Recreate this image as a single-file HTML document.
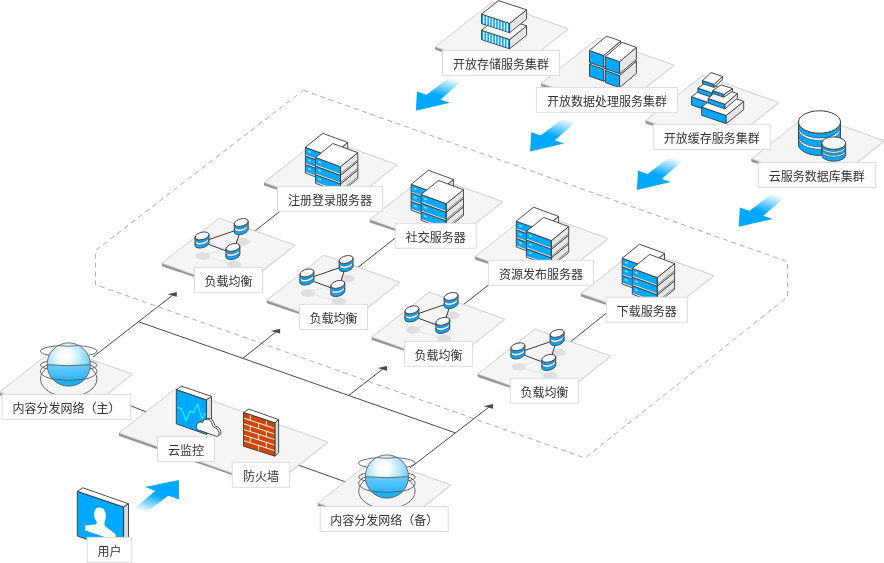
<!DOCTYPE html>
<html lang="zh-CN">
<head>
<meta charset="utf-8">
<title>云架构图</title>
<style>
html,body{margin:0;padding:0;background:#fff;}
body{width:884px;height:563px;overflow:hidden;}
svg{display:block;}
.t{font-family:"Liberation Sans","Noto Sans CJK SC","WenQuanYi Zen Hei",sans-serif;font-size:12px;fill:#333;filter:grayscale(1);}
</style>
</head>
<body>
<svg width="884" height="563" viewBox="0 0 884 563">
<defs>
<radialGradient id="gl" cx="0.42" cy="0.3" r="0.68"><stop offset="0" stop-color="#ffffff"/><stop offset="0.22" stop-color="#f6fcff"/><stop offset="0.65" stop-color="#a4dffd"/><stop offset="1" stop-color="#4cc1fa"/></radialGradient>
<linearGradient id="gl2" x1="0" y1="0" x2="0" y2="1"><stop offset="0" stop-color="#5cc8fe" stop-opacity="0.85"/><stop offset="1" stop-color="#14aefc" stop-opacity="1"/></linearGradient>
<linearGradient id="ga0" gradientUnits="userSpaceOnUse" x1="433.0" y1="97.1" x2="439.6" y2="74.5"><stop offset="0" stop-color="#00a8ff"/><stop offset="0.12" stop-color="#00a8ff"/><stop offset="1" stop-color="#fff"/></linearGradient>
<linearGradient id="ga1" gradientUnits="userSpaceOnUse" x1="547.3" y1="137.8" x2="553.9" y2="115.2"><stop offset="0" stop-color="#00a8ff"/><stop offset="0.12" stop-color="#00a8ff"/><stop offset="1" stop-color="#fff"/></linearGradient>
<linearGradient id="ga2" gradientUnits="userSpaceOnUse" x1="654.1" y1="176.4" x2="660.7" y2="153.8"><stop offset="0" stop-color="#00a8ff"/><stop offset="0.12" stop-color="#00a8ff"/><stop offset="1" stop-color="#fff"/></linearGradient>
<linearGradient id="ga3" gradientUnits="userSpaceOnUse" x1="755.9" y1="213.2" x2="762.5" y2="190.6"><stop offset="0" stop-color="#00a8ff"/><stop offset="0.12" stop-color="#00a8ff"/><stop offset="1" stop-color="#fff"/></linearGradient>
<linearGradient id="gu" gradientUnits="userSpaceOnUse" x1="161.6" y1="493.6" x2="155.3" y2="515.3"><stop offset="0" stop-color="#00a8ff"/><stop offset="0.12" stop-color="#00a8ff"/><stop offset="1" stop-color="#fff"/></linearGradient>
</defs>
<rect width="884" height="563" fill="#fff"/>
<polygon points="303.4,90.3 787.5,261.7 787.5,297 585,458 95.4,284.6 95.4,250.5" fill="none" stroke="#adadad" stroke-width="1" stroke-dasharray="5,3.9"/>
<line x1="125.0" y1="403.6" x2="146.0" y2="411.8" stroke="#4a4a4a" stroke-width="1" />
<line x1="297.0" y1="464.6" x2="346.0" y2="482.1" stroke="#4a4a4a" stroke-width="1" />
<line x1="248.0" y1="236.5" x2="290.0" y2="203.3" stroke="#4a4a4a" stroke-width="1" />
<line x1="352.0" y1="272.0" x2="400.0" y2="234.3" stroke="#4a4a4a" stroke-width="1" />
<line x1="458.0" y1="308.8" x2="495.0" y2="279.9" stroke="#4a4a4a" stroke-width="1" />
<line x1="565.0" y1="346.2" x2="612.0" y2="308.6" stroke="#4a4a4a" stroke-width="1" />
<clipPath id="cp1"><rect x="0" y="0" width="884" height="75.2"/></clipPath>
<g clip-path="url(#cp1)">
<polygon points="492.5,1.8 568.2,28.8 511.0,73.8 435.3,46.8" fill="#f5f5f5" stroke="#c9c9c9" stroke-width="0.9" stroke-linejoin="round" />
<polygon points="435.0,47.0 511.0,74.1 511.0,75.0 435.2,49.8" fill="#959595" />
<polygon points="511.0,74.1 568.5,29.0 568.4,29.7 511.0,75.0" fill="#d8d8d8" />
</g>
<clipPath id="cp2"><rect x="0" y="0" width="884" height="112.2"/></clipPath>
<g clip-path="url(#cp2)">
<polygon points="598.3,38.2 674.0,65.2 616.8,110.2 541.1,83.2" fill="#f5f5f5" stroke="#c9c9c9" stroke-width="0.9" stroke-linejoin="round" />
<polygon points="540.8,83.4 616.8,110.5 616.8,111.4 541.0,86.2" fill="#959595" />
<polygon points="616.8,110.5 674.3,65.4 674.2,66.1 616.8,111.4" fill="#d8d8d8" />
</g>
<clipPath id="cp3"><rect x="0" y="0" width="884" height="149.1"/></clipPath>
<g clip-path="url(#cp3)">
<polygon points="703.0,75.5 778.7,102.5 721.5,147.5 645.8,120.5" fill="#f5f5f5" stroke="#c9c9c9" stroke-width="0.9" stroke-linejoin="round" />
<polygon points="645.5,120.7 721.5,147.8 721.5,148.7 645.7,123.5" fill="#959595" />
<polygon points="721.5,147.8 779.0,102.7 778.9,103.4 721.5,148.7" fill="#d8d8d8" />
</g>
<clipPath id="cp4"><rect x="0" y="0" width="884" height="187.2"/></clipPath>
<g clip-path="url(#cp4)">
<polygon points="808.7,113.8 884.4,140.8 827.2,185.8 751.5,158.8" fill="#f5f5f5" stroke="#c9c9c9" stroke-width="0.9" stroke-linejoin="round" />
<polygon points="751.2,159.0 827.2,186.1 827.2,187.0 751.4,161.8" fill="#959595" />
<polygon points="827.2,186.1 884.7,141.0 884.6,141.7 827.2,187.0" fill="#d8d8d8" />
</g>
<clipPath id="cp5"><rect x="0" y="0" width="884" height="211.1"/></clipPath>
<g clip-path="url(#cp5)">
<polygon points="321.4,137.6 397.1,164.6 339.9,209.6 264.2,182.6" fill="#f5f5f5" stroke="#c9c9c9" stroke-width="0.9" stroke-linejoin="round" />
<polygon points="263.9,182.8 339.9,209.9 339.9,210.8 264.1,185.6" fill="#959595" />
<polygon points="339.9,209.9 397.4,164.8 397.3,165.5 339.9,210.8" fill="#d8d8d8" />
</g>
<clipPath id="cp6"><rect x="0" y="0" width="884" height="248.1"/></clipPath>
<g clip-path="url(#cp6)">
<polygon points="427.1,174.6 502.8,201.6 445.6,246.6 369.9,219.6" fill="#f5f5f5" stroke="#c9c9c9" stroke-width="0.9" stroke-linejoin="round" />
<polygon points="369.6,219.8 445.6,246.9 445.6,247.8 369.8,222.6" fill="#959595" />
<polygon points="445.6,246.9 503.1,201.8 503.0,202.5 445.6,247.8" fill="#d8d8d8" />
</g>
<clipPath id="cp7"><rect x="0" y="0" width="884" height="285.0"/></clipPath>
<g clip-path="url(#cp7)">
<polygon points="532.3,211.5 608.0,238.5 550.8,283.5 475.1,256.5" fill="#f5f5f5" stroke="#c9c9c9" stroke-width="0.9" stroke-linejoin="round" />
<polygon points="474.8,256.7 550.8,283.8 550.8,284.7 475.0,259.5" fill="#959595" />
<polygon points="550.8,283.8 608.3,238.7 608.2,239.4 550.8,284.7" fill="#d8d8d8" />
</g>
<clipPath id="cp8"><rect x="0" y="0" width="884" height="322.0"/></clipPath>
<g clip-path="url(#cp8)">
<polygon points="638.2,248.5 713.9,275.5 656.7,320.5 581.0,293.5" fill="#f5f5f5" stroke="#c9c9c9" stroke-width="0.9" stroke-linejoin="round" />
<polygon points="580.7,293.7 656.7,320.8 656.7,321.7 580.9,296.5" fill="#959595" />
<polygon points="656.7,320.8 714.2,275.7 714.1,276.4 656.7,321.7" fill="#d8d8d8" />
</g>
<clipPath id="cp9"><rect x="0" y="0" width="884" height="292.2"/></clipPath>
<g clip-path="url(#cp9)">
<polygon points="219.2,218.2 294.9,245.2 237.7,290.2 162.0,263.2" fill="#f5f5f5" stroke="#c9c9c9" stroke-width="0.9" stroke-linejoin="round" />
<polygon points="161.7,263.4 237.7,290.5 237.7,291.4 161.9,266.2" fill="#959595" />
<polygon points="237.7,290.5 295.2,245.4 295.1,246.1 237.7,291.4" fill="#d8d8d8" />
</g>
<clipPath id="cp10"><rect x="0" y="0" width="884" height="329.2"/></clipPath>
<g clip-path="url(#cp10)">
<polygon points="324.1,255.2 399.8,282.2 342.6,327.2 266.9,300.2" fill="#f5f5f5" stroke="#c9c9c9" stroke-width="0.9" stroke-linejoin="round" />
<polygon points="266.6,300.4 342.6,327.5 342.6,328.4 266.8,303.2" fill="#959595" />
<polygon points="342.6,327.5 400.1,282.4 400.0,283.1 342.6,328.4" fill="#d8d8d8" />
</g>
<clipPath id="cp11"><rect x="0" y="0" width="884" height="366.1"/></clipPath>
<g clip-path="url(#cp11)">
<polygon points="429.1,292.1 504.8,319.1 447.6,364.1 371.9,337.1" fill="#f5f5f5" stroke="#c9c9c9" stroke-width="0.9" stroke-linejoin="round" />
<polygon points="371.6,337.3 447.6,364.4 447.6,365.3 371.8,340.1" fill="#959595" />
<polygon points="447.6,364.4 505.1,319.3 505.0,320.0 447.6,365.3" fill="#d8d8d8" />
</g>
<clipPath id="cp12"><rect x="0" y="0" width="884" height="403.1"/></clipPath>
<g clip-path="url(#cp12)">
<polygon points="535.1,329.1 610.8,356.1 553.6,401.1 477.9,374.1" fill="#f5f5f5" stroke="#c9c9c9" stroke-width="0.9" stroke-linejoin="round" />
<polygon points="477.6,374.3 553.6,401.4 553.6,402.3 477.8,377.1" fill="#959595" />
<polygon points="553.6,401.4 611.1,356.3 611.0,357.0 553.6,402.3" fill="#d8d8d8" />
</g>
<clipPath id="cp13"><rect x="0" y="0" width="884" height="419.2"/></clipPath>
<g clip-path="url(#cp13)">
<polygon points="56.7,347.2 132.4,374.2 75.2,419.2 -0.5,392.2" fill="#f5f5f5" stroke="#c9c9c9" stroke-width="0.9" stroke-linejoin="round" />
<polygon points="-0.8,392.4 75.2,419.5 75.2,420.4 -0.6,395.2" fill="#959595" />
<polygon points="75.2,419.5 132.7,374.4 132.6,375.1 75.2,420.4" fill="#d8d8d8" />
</g>
<clipPath id="cp14"><rect x="0" y="0" width="884" height="487.1"/></clipPath>
<g clip-path="url(#cp14)">
<polygon points="176.4,388.0 327.8,442.0 270.6,487.0 119.2,433.0" fill="#f5f5f5" stroke="#c9c9c9" stroke-width="0.9" stroke-linejoin="round" />
<polygon points="118.9,433.2 270.6,487.3 270.6,488.2 119.1,436.0" fill="#959595" />
<polygon points="270.6,487.3 328.1,442.2 328.0,442.9 270.6,488.2" fill="#d8d8d8" />
</g>
<clipPath id="cp15"><rect x="0" y="0" width="884" height="531.2"/></clipPath>
<g clip-path="url(#cp15)">
<polygon points="375.2,458.0 450.9,485.0 393.7,530.0 318.0,503.0" fill="#f5f5f5" stroke="#c9c9c9" stroke-width="0.9" stroke-linejoin="round" />
<polygon points="317.7,503.2 393.7,530.3 393.7,531.2 317.9,506.0" fill="#959595" />
<polygon points="393.7,530.3 451.2,485.2 451.1,485.9 393.7,531.2" fill="#d8d8d8" />
</g>
<line x1="139.0" y1="321.9" x2="455.1" y2="432.8" stroke="#4a4a4a" stroke-width="1" />
<line x1="93.0" y1="357.0" x2="172.6" y2="295.2" stroke="#4a4a4a" stroke-width="1" />
<polygon points="176.8,292.1 167.4,294.2 176.8,296.8" fill="#4a4a4a" />
<line x1="242.9" y1="358.3" x2="275.9" y2="331.9" stroke="#4a4a4a" stroke-width="1" />
<polygon points="280.1,328.8 270.7,330.9 280.1,333.5" fill="#4a4a4a" />
<line x1="348.6" y1="395.5" x2="382.8" y2="369.1" stroke="#4a4a4a" stroke-width="1" />
<polygon points="387.0,366.0 377.6,368.1 387.0,370.7" fill="#4a4a4a" />
<line x1="409.9" y1="468.0" x2="488.8" y2="407.2" stroke="#4a4a4a" stroke-width="1" />
<polygon points="493.0,404.1 483.6,406.2 493.0,408.8" fill="#4a4a4a" />
<polygon points="305.4,164.5 330.4,173.7 330.4,182.3 305.4,173.1" fill="#fff" />
<polygon points="330.4,173.7 347.7,159.7 347.7,168.3 330.4,182.3" fill="#fff" />
<polygon points="305.4,164.5 330.4,173.7 330.4,180.8 305.4,171.6" fill="#00a8ff" />
<polygon points="330.4,173.7 347.7,159.7 347.7,166.8 330.4,180.8" fill="#e6e6e6" />
<polygon points="305.4,164.5 330.4,173.7 330.4,182.3 305.4,173.1" fill="none" stroke="#3a3a3a" stroke-width="0.9" stroke-linejoin="round" />
<polygon points="330.4,173.7 347.7,159.7 347.7,168.3 330.4,182.3" fill="none" stroke="#3a3a3a" stroke-width="0.9" stroke-linejoin="round" />
<line x1="330.4" y1="180.7" x2="347.7" y2="166.7" stroke="#555" stroke-width="0.7" />
<line x1="305.4" y1="171.6" x2="330.4" y2="180.8" stroke="#6b7f8a" stroke-width="0.4" />
<polygon points="308.0,167.7 311.0,168.8 311.0,170.5 308.0,169.4" fill="#7adcff" />
<polygon points="305.4,155.9 330.4,165.1 330.4,173.7 305.4,164.5" fill="#fff" />
<polygon points="330.4,165.1 347.7,151.1 347.7,159.7 330.4,173.7" fill="#fff" />
<polygon points="305.4,155.9 330.4,165.1 330.4,172.2 305.4,163.0" fill="#00a8ff" />
<polygon points="330.4,165.1 347.7,151.1 347.7,158.2 330.4,172.2" fill="#e6e6e6" />
<polygon points="305.4,155.9 330.4,165.1 330.4,173.7 305.4,164.5" fill="none" stroke="#3a3a3a" stroke-width="0.9" stroke-linejoin="round" />
<polygon points="330.4,165.1 347.7,151.1 347.7,159.7 330.4,173.7" fill="none" stroke="#3a3a3a" stroke-width="0.9" stroke-linejoin="round" />
<line x1="330.4" y1="172.1" x2="347.7" y2="158.1" stroke="#555" stroke-width="0.7" />
<line x1="305.4" y1="163.0" x2="330.4" y2="172.2" stroke="#6b7f8a" stroke-width="0.4" />
<polygon points="308.0,159.1 311.0,160.2 311.0,161.9 308.0,160.8" fill="#7adcff" />
<polygon points="305.4,147.3 330.4,156.5 330.4,165.1 305.4,155.9" fill="#fff" />
<polygon points="330.4,156.5 347.7,142.5 347.7,151.1 330.4,165.1" fill="#fff" />
<polygon points="305.4,147.3 330.4,156.5 330.4,163.6 305.4,154.4" fill="#00a8ff" />
<polygon points="330.4,156.5 347.7,142.5 347.7,149.6 330.4,163.6" fill="#e6e6e6" />
<polygon points="305.4,147.3 330.4,156.5 330.4,165.1 305.4,155.9" fill="none" stroke="#3a3a3a" stroke-width="0.9" stroke-linejoin="round" />
<polygon points="330.4,156.5 347.7,142.5 347.7,151.1 330.4,165.1" fill="none" stroke="#3a3a3a" stroke-width="0.9" stroke-linejoin="round" />
<line x1="330.4" y1="163.5" x2="347.7" y2="149.5" stroke="#555" stroke-width="0.7" />
<line x1="305.4" y1="154.4" x2="330.4" y2="163.6" stroke="#6b7f8a" stroke-width="0.4" />
<polygon points="308.0,150.5 311.0,151.6 311.0,153.3 308.0,152.2" fill="#7adcff" />
<polygon points="305.4,147.3 330.4,156.5 347.7,142.5 322.7,133.3" fill="#fff" stroke="#3a3a3a" stroke-width="0.9" stroke-linejoin="round" />
<polygon points="315.5,174.7 340.5,183.9 340.5,192.5 315.5,183.3" fill="#fff" />
<polygon points="340.5,183.9 357.8,169.9 357.8,178.5 340.5,192.5" fill="#fff" />
<polygon points="315.5,174.7 340.5,183.9 340.5,191.0 315.5,181.8" fill="#00a8ff" />
<polygon points="340.5,183.9 357.8,169.9 357.8,177.0 340.5,191.0" fill="#e6e6e6" />
<polygon points="315.5,174.7 340.5,183.9 340.5,192.5 315.5,183.3" fill="none" stroke="#3a3a3a" stroke-width="0.9" stroke-linejoin="round" />
<polygon points="340.5,183.9 357.8,169.9 357.8,178.5 340.5,192.5" fill="none" stroke="#3a3a3a" stroke-width="0.9" stroke-linejoin="round" />
<line x1="340.5" y1="190.9" x2="357.8" y2="176.9" stroke="#555" stroke-width="0.7" />
<line x1="315.5" y1="181.8" x2="340.5" y2="191.0" stroke="#6b7f8a" stroke-width="0.4" />
<polygon points="318.1,177.9 321.1,179.0 321.1,180.7 318.1,179.6" fill="#7adcff" />
<polygon points="315.5,166.1 340.5,175.3 340.5,183.9 315.5,174.7" fill="#fff" />
<polygon points="340.5,175.3 357.8,161.3 357.8,169.9 340.5,183.9" fill="#fff" />
<polygon points="315.5,166.1 340.5,175.3 340.5,182.4 315.5,173.2" fill="#00a8ff" />
<polygon points="340.5,175.3 357.8,161.3 357.8,168.4 340.5,182.4" fill="#e6e6e6" />
<polygon points="315.5,166.1 340.5,175.3 340.5,183.9 315.5,174.7" fill="none" stroke="#3a3a3a" stroke-width="0.9" stroke-linejoin="round" />
<polygon points="340.5,175.3 357.8,161.3 357.8,169.9 340.5,183.9" fill="none" stroke="#3a3a3a" stroke-width="0.9" stroke-linejoin="round" />
<line x1="340.5" y1="182.3" x2="357.8" y2="168.3" stroke="#555" stroke-width="0.7" />
<line x1="315.5" y1="173.2" x2="340.5" y2="182.4" stroke="#6b7f8a" stroke-width="0.4" />
<polygon points="318.1,169.3 321.1,170.4 321.1,172.1 318.1,171.0" fill="#7adcff" />
<polygon points="315.5,157.5 340.5,166.7 340.5,175.3 315.5,166.1" fill="#fff" />
<polygon points="340.5,166.7 357.8,152.7 357.8,161.3 340.5,175.3" fill="#fff" />
<polygon points="315.5,157.5 340.5,166.7 340.5,173.8 315.5,164.6" fill="#00a8ff" />
<polygon points="340.5,166.7 357.8,152.7 357.8,159.8 340.5,173.8" fill="#e6e6e6" />
<polygon points="315.5,157.5 340.5,166.7 340.5,175.3 315.5,166.1" fill="none" stroke="#3a3a3a" stroke-width="0.9" stroke-linejoin="round" />
<polygon points="340.5,166.7 357.8,152.7 357.8,161.3 340.5,175.3" fill="none" stroke="#3a3a3a" stroke-width="0.9" stroke-linejoin="round" />
<line x1="340.5" y1="173.7" x2="357.8" y2="159.7" stroke="#555" stroke-width="0.7" />
<line x1="315.5" y1="164.6" x2="340.5" y2="173.8" stroke="#6b7f8a" stroke-width="0.4" />
<polygon points="318.1,160.7 321.1,161.8 321.1,163.5 318.1,162.4" fill="#7adcff" />
<polygon points="315.5,157.5 340.5,166.7 357.8,152.7 332.8,143.5" fill="#fff" stroke="#3a3a3a" stroke-width="0.9" stroke-linejoin="round" />
<polygon points="411.1,201.5 436.1,210.7 436.1,219.3 411.1,210.1" fill="#fff" />
<polygon points="436.1,210.7 453.4,196.7 453.4,205.3 436.1,219.3" fill="#fff" />
<polygon points="411.1,201.5 436.1,210.7 436.1,217.8 411.1,208.6" fill="#00a8ff" />
<polygon points="436.1,210.7 453.4,196.7 453.4,203.8 436.1,217.8" fill="#e6e6e6" />
<polygon points="411.1,201.5 436.1,210.7 436.1,219.3 411.1,210.1" fill="none" stroke="#3a3a3a" stroke-width="0.9" stroke-linejoin="round" />
<polygon points="436.1,210.7 453.4,196.7 453.4,205.3 436.1,219.3" fill="none" stroke="#3a3a3a" stroke-width="0.9" stroke-linejoin="round" />
<line x1="436.1" y1="217.7" x2="453.4" y2="203.7" stroke="#555" stroke-width="0.7" />
<line x1="411.1" y1="208.6" x2="436.1" y2="217.8" stroke="#6b7f8a" stroke-width="0.4" />
<polygon points="413.7,204.7 416.7,205.8 416.7,207.5 413.7,206.4" fill="#7adcff" />
<polygon points="411.1,192.9 436.1,202.1 436.1,210.7 411.1,201.5" fill="#fff" />
<polygon points="436.1,202.1 453.4,188.1 453.4,196.7 436.1,210.7" fill="#fff" />
<polygon points="411.1,192.9 436.1,202.1 436.1,209.2 411.1,200.0" fill="#00a8ff" />
<polygon points="436.1,202.1 453.4,188.1 453.4,195.2 436.1,209.2" fill="#e6e6e6" />
<polygon points="411.1,192.9 436.1,202.1 436.1,210.7 411.1,201.5" fill="none" stroke="#3a3a3a" stroke-width="0.9" stroke-linejoin="round" />
<polygon points="436.1,202.1 453.4,188.1 453.4,196.7 436.1,210.7" fill="none" stroke="#3a3a3a" stroke-width="0.9" stroke-linejoin="round" />
<line x1="436.1" y1="209.1" x2="453.4" y2="195.1" stroke="#555" stroke-width="0.7" />
<line x1="411.1" y1="200.0" x2="436.1" y2="209.2" stroke="#6b7f8a" stroke-width="0.4" />
<polygon points="413.7,196.1 416.7,197.2 416.7,198.9 413.7,197.8" fill="#7adcff" />
<polygon points="411.1,184.3 436.1,193.5 436.1,202.1 411.1,192.9" fill="#fff" />
<polygon points="436.1,193.5 453.4,179.5 453.4,188.1 436.1,202.1" fill="#fff" />
<polygon points="411.1,184.3 436.1,193.5 436.1,200.6 411.1,191.4" fill="#00a8ff" />
<polygon points="436.1,193.5 453.4,179.5 453.4,186.6 436.1,200.6" fill="#e6e6e6" />
<polygon points="411.1,184.3 436.1,193.5 436.1,202.1 411.1,192.9" fill="none" stroke="#3a3a3a" stroke-width="0.9" stroke-linejoin="round" />
<polygon points="436.1,193.5 453.4,179.5 453.4,188.1 436.1,202.1" fill="none" stroke="#3a3a3a" stroke-width="0.9" stroke-linejoin="round" />
<line x1="436.1" y1="200.5" x2="453.4" y2="186.5" stroke="#555" stroke-width="0.7" />
<line x1="411.1" y1="191.4" x2="436.1" y2="200.6" stroke="#6b7f8a" stroke-width="0.4" />
<polygon points="413.7,187.5 416.7,188.6 416.7,190.3 413.7,189.2" fill="#7adcff" />
<polygon points="411.1,184.3 436.1,193.5 453.4,179.5 428.4,170.3" fill="#fff" stroke="#3a3a3a" stroke-width="0.9" stroke-linejoin="round" />
<polygon points="421.2,211.7 446.2,220.9 446.2,229.5 421.2,220.3" fill="#fff" />
<polygon points="446.2,220.9 463.5,206.9 463.5,215.5 446.2,229.5" fill="#fff" />
<polygon points="421.2,211.7 446.2,220.9 446.2,228.0 421.2,218.8" fill="#00a8ff" />
<polygon points="446.2,220.9 463.5,206.9 463.5,214.0 446.2,228.0" fill="#e6e6e6" />
<polygon points="421.2,211.7 446.2,220.9 446.2,229.5 421.2,220.3" fill="none" stroke="#3a3a3a" stroke-width="0.9" stroke-linejoin="round" />
<polygon points="446.2,220.9 463.5,206.9 463.5,215.5 446.2,229.5" fill="none" stroke="#3a3a3a" stroke-width="0.9" stroke-linejoin="round" />
<line x1="446.2" y1="227.9" x2="463.5" y2="213.9" stroke="#555" stroke-width="0.7" />
<line x1="421.2" y1="218.8" x2="446.2" y2="228.0" stroke="#6b7f8a" stroke-width="0.4" />
<polygon points="423.8,214.9 426.8,216.0 426.8,217.7 423.8,216.6" fill="#7adcff" />
<polygon points="421.2,203.1 446.2,212.3 446.2,220.9 421.2,211.7" fill="#fff" />
<polygon points="446.2,212.3 463.5,198.3 463.5,206.9 446.2,220.9" fill="#fff" />
<polygon points="421.2,203.1 446.2,212.3 446.2,219.4 421.2,210.2" fill="#00a8ff" />
<polygon points="446.2,212.3 463.5,198.3 463.5,205.4 446.2,219.4" fill="#e6e6e6" />
<polygon points="421.2,203.1 446.2,212.3 446.2,220.9 421.2,211.7" fill="none" stroke="#3a3a3a" stroke-width="0.9" stroke-linejoin="round" />
<polygon points="446.2,212.3 463.5,198.3 463.5,206.9 446.2,220.9" fill="none" stroke="#3a3a3a" stroke-width="0.9" stroke-linejoin="round" />
<line x1="446.2" y1="219.3" x2="463.5" y2="205.3" stroke="#555" stroke-width="0.7" />
<line x1="421.2" y1="210.2" x2="446.2" y2="219.4" stroke="#6b7f8a" stroke-width="0.4" />
<polygon points="423.8,206.3 426.8,207.4 426.8,209.1 423.8,208.0" fill="#7adcff" />
<polygon points="421.2,194.5 446.2,203.7 446.2,212.3 421.2,203.1" fill="#fff" />
<polygon points="446.2,203.7 463.5,189.7 463.5,198.3 446.2,212.3" fill="#fff" />
<polygon points="421.2,194.5 446.2,203.7 446.2,210.8 421.2,201.6" fill="#00a8ff" />
<polygon points="446.2,203.7 463.5,189.7 463.5,196.8 446.2,210.8" fill="#e6e6e6" />
<polygon points="421.2,194.5 446.2,203.7 446.2,212.3 421.2,203.1" fill="none" stroke="#3a3a3a" stroke-width="0.9" stroke-linejoin="round" />
<polygon points="446.2,203.7 463.5,189.7 463.5,198.3 446.2,212.3" fill="none" stroke="#3a3a3a" stroke-width="0.9" stroke-linejoin="round" />
<line x1="446.2" y1="210.7" x2="463.5" y2="196.7" stroke="#555" stroke-width="0.7" />
<line x1="421.2" y1="201.6" x2="446.2" y2="210.8" stroke="#6b7f8a" stroke-width="0.4" />
<polygon points="423.8,197.7 426.8,198.8 426.8,200.5 423.8,199.4" fill="#7adcff" />
<polygon points="421.2,194.5 446.2,203.7 463.5,189.7 438.5,180.5" fill="#fff" stroke="#3a3a3a" stroke-width="0.9" stroke-linejoin="round" />
<polygon points="516.3,238.4 541.3,247.6 541.3,256.2 516.3,247.0" fill="#fff" />
<polygon points="541.3,247.6 558.6,233.6 558.6,242.2 541.3,256.2" fill="#fff" />
<polygon points="516.3,238.4 541.3,247.6 541.3,254.7 516.3,245.5" fill="#00a8ff" />
<polygon points="541.3,247.6 558.6,233.6 558.6,240.7 541.3,254.7" fill="#e6e6e6" />
<polygon points="516.3,238.4 541.3,247.6 541.3,256.2 516.3,247.0" fill="none" stroke="#3a3a3a" stroke-width="0.9" stroke-linejoin="round" />
<polygon points="541.3,247.6 558.6,233.6 558.6,242.2 541.3,256.2" fill="none" stroke="#3a3a3a" stroke-width="0.9" stroke-linejoin="round" />
<line x1="541.3" y1="254.6" x2="558.6" y2="240.6" stroke="#555" stroke-width="0.7" />
<line x1="516.3" y1="245.5" x2="541.3" y2="254.7" stroke="#6b7f8a" stroke-width="0.4" />
<polygon points="518.9,241.6 521.9,242.7 521.9,244.4 518.9,243.3" fill="#7adcff" />
<polygon points="516.3,229.8 541.3,239.0 541.3,247.6 516.3,238.4" fill="#fff" />
<polygon points="541.3,239.0 558.6,225.0 558.6,233.6 541.3,247.6" fill="#fff" />
<polygon points="516.3,229.8 541.3,239.0 541.3,246.1 516.3,236.9" fill="#00a8ff" />
<polygon points="541.3,239.0 558.6,225.0 558.6,232.1 541.3,246.1" fill="#e6e6e6" />
<polygon points="516.3,229.8 541.3,239.0 541.3,247.6 516.3,238.4" fill="none" stroke="#3a3a3a" stroke-width="0.9" stroke-linejoin="round" />
<polygon points="541.3,239.0 558.6,225.0 558.6,233.6 541.3,247.6" fill="none" stroke="#3a3a3a" stroke-width="0.9" stroke-linejoin="round" />
<line x1="541.3" y1="246.0" x2="558.6" y2="232.0" stroke="#555" stroke-width="0.7" />
<line x1="516.3" y1="236.9" x2="541.3" y2="246.1" stroke="#6b7f8a" stroke-width="0.4" />
<polygon points="518.9,233.0 521.9,234.1 521.9,235.8 518.9,234.7" fill="#7adcff" />
<polygon points="516.3,221.2 541.3,230.4 541.3,239.0 516.3,229.8" fill="#fff" />
<polygon points="541.3,230.4 558.6,216.4 558.6,225.0 541.3,239.0" fill="#fff" />
<polygon points="516.3,221.2 541.3,230.4 541.3,237.5 516.3,228.3" fill="#00a8ff" />
<polygon points="541.3,230.4 558.6,216.4 558.6,223.5 541.3,237.5" fill="#e6e6e6" />
<polygon points="516.3,221.2 541.3,230.4 541.3,239.0 516.3,229.8" fill="none" stroke="#3a3a3a" stroke-width="0.9" stroke-linejoin="round" />
<polygon points="541.3,230.4 558.6,216.4 558.6,225.0 541.3,239.0" fill="none" stroke="#3a3a3a" stroke-width="0.9" stroke-linejoin="round" />
<line x1="541.3" y1="237.4" x2="558.6" y2="223.4" stroke="#555" stroke-width="0.7" />
<line x1="516.3" y1="228.3" x2="541.3" y2="237.5" stroke="#6b7f8a" stroke-width="0.4" />
<polygon points="518.9,224.4 521.9,225.5 521.9,227.2 518.9,226.1" fill="#7adcff" />
<polygon points="516.3,221.2 541.3,230.4 558.6,216.4 533.6,207.2" fill="#fff" stroke="#3a3a3a" stroke-width="0.9" stroke-linejoin="round" />
<polygon points="526.4,248.6 551.4,257.8 551.4,266.4 526.4,257.2" fill="#fff" />
<polygon points="551.4,257.8 568.7,243.8 568.7,252.4 551.4,266.4" fill="#fff" />
<polygon points="526.4,248.6 551.4,257.8 551.4,264.9 526.4,255.7" fill="#00a8ff" />
<polygon points="551.4,257.8 568.7,243.8 568.7,250.9 551.4,264.9" fill="#e6e6e6" />
<polygon points="526.4,248.6 551.4,257.8 551.4,266.4 526.4,257.2" fill="none" stroke="#3a3a3a" stroke-width="0.9" stroke-linejoin="round" />
<polygon points="551.4,257.8 568.7,243.8 568.7,252.4 551.4,266.4" fill="none" stroke="#3a3a3a" stroke-width="0.9" stroke-linejoin="round" />
<line x1="551.4" y1="264.8" x2="568.7" y2="250.8" stroke="#555" stroke-width="0.7" />
<line x1="526.4" y1="255.7" x2="551.4" y2="264.9" stroke="#6b7f8a" stroke-width="0.4" />
<polygon points="529.0,251.8 532.0,252.9 532.0,254.6 529.0,253.5" fill="#7adcff" />
<polygon points="526.4,240.0 551.4,249.2 551.4,257.8 526.4,248.6" fill="#fff" />
<polygon points="551.4,249.2 568.7,235.2 568.7,243.8 551.4,257.8" fill="#fff" />
<polygon points="526.4,240.0 551.4,249.2 551.4,256.3 526.4,247.1" fill="#00a8ff" />
<polygon points="551.4,249.2 568.7,235.2 568.7,242.3 551.4,256.3" fill="#e6e6e6" />
<polygon points="526.4,240.0 551.4,249.2 551.4,257.8 526.4,248.6" fill="none" stroke="#3a3a3a" stroke-width="0.9" stroke-linejoin="round" />
<polygon points="551.4,249.2 568.7,235.2 568.7,243.8 551.4,257.8" fill="none" stroke="#3a3a3a" stroke-width="0.9" stroke-linejoin="round" />
<line x1="551.4" y1="256.2" x2="568.7" y2="242.2" stroke="#555" stroke-width="0.7" />
<line x1="526.4" y1="247.1" x2="551.4" y2="256.3" stroke="#6b7f8a" stroke-width="0.4" />
<polygon points="529.0,243.2 532.0,244.3 532.0,246.0 529.0,244.9" fill="#7adcff" />
<polygon points="526.4,231.4 551.4,240.6 551.4,249.2 526.4,240.0" fill="#fff" />
<polygon points="551.4,240.6 568.7,226.6 568.7,235.2 551.4,249.2" fill="#fff" />
<polygon points="526.4,231.4 551.4,240.6 551.4,247.7 526.4,238.5" fill="#00a8ff" />
<polygon points="551.4,240.6 568.7,226.6 568.7,233.7 551.4,247.7" fill="#e6e6e6" />
<polygon points="526.4,231.4 551.4,240.6 551.4,249.2 526.4,240.0" fill="none" stroke="#3a3a3a" stroke-width="0.9" stroke-linejoin="round" />
<polygon points="551.4,240.6 568.7,226.6 568.7,235.2 551.4,249.2" fill="none" stroke="#3a3a3a" stroke-width="0.9" stroke-linejoin="round" />
<line x1="551.4" y1="247.6" x2="568.7" y2="233.6" stroke="#555" stroke-width="0.7" />
<line x1="526.4" y1="238.5" x2="551.4" y2="247.7" stroke="#6b7f8a" stroke-width="0.4" />
<polygon points="529.0,234.6 532.0,235.7 532.0,237.4 529.0,236.3" fill="#7adcff" />
<polygon points="526.4,231.4 551.4,240.6 568.7,226.6 543.7,217.4" fill="#fff" stroke="#3a3a3a" stroke-width="0.9" stroke-linejoin="round" />
<polygon points="622.2,275.4 647.2,284.6 647.2,293.2 622.2,284.0" fill="#fff" />
<polygon points="647.2,284.6 664.5,270.6 664.5,279.2 647.2,293.2" fill="#fff" />
<polygon points="622.2,275.4 647.2,284.6 647.2,291.7 622.2,282.5" fill="#00a8ff" />
<polygon points="647.2,284.6 664.5,270.6 664.5,277.7 647.2,291.7" fill="#e6e6e6" />
<polygon points="622.2,275.4 647.2,284.6 647.2,293.2 622.2,284.0" fill="none" stroke="#3a3a3a" stroke-width="0.9" stroke-linejoin="round" />
<polygon points="647.2,284.6 664.5,270.6 664.5,279.2 647.2,293.2" fill="none" stroke="#3a3a3a" stroke-width="0.9" stroke-linejoin="round" />
<line x1="647.2" y1="291.6" x2="664.5" y2="277.6" stroke="#555" stroke-width="0.7" />
<line x1="622.2" y1="282.5" x2="647.2" y2="291.7" stroke="#6b7f8a" stroke-width="0.4" />
<polygon points="624.8,278.6 627.8,279.7 627.8,281.4 624.8,280.3" fill="#7adcff" />
<polygon points="622.2,266.8 647.2,276.0 647.2,284.6 622.2,275.4" fill="#fff" />
<polygon points="647.2,276.0 664.5,262.0 664.5,270.6 647.2,284.6" fill="#fff" />
<polygon points="622.2,266.8 647.2,276.0 647.2,283.1 622.2,273.9" fill="#00a8ff" />
<polygon points="647.2,276.0 664.5,262.0 664.5,269.1 647.2,283.1" fill="#e6e6e6" />
<polygon points="622.2,266.8 647.2,276.0 647.2,284.6 622.2,275.4" fill="none" stroke="#3a3a3a" stroke-width="0.9" stroke-linejoin="round" />
<polygon points="647.2,276.0 664.5,262.0 664.5,270.6 647.2,284.6" fill="none" stroke="#3a3a3a" stroke-width="0.9" stroke-linejoin="round" />
<line x1="647.2" y1="283.0" x2="664.5" y2="269.0" stroke="#555" stroke-width="0.7" />
<line x1="622.2" y1="273.9" x2="647.2" y2="283.1" stroke="#6b7f8a" stroke-width="0.4" />
<polygon points="624.8,270.0 627.8,271.1 627.8,272.8 624.8,271.7" fill="#7adcff" />
<polygon points="622.2,258.2 647.2,267.4 647.2,276.0 622.2,266.8" fill="#fff" />
<polygon points="647.2,267.4 664.5,253.4 664.5,262.0 647.2,276.0" fill="#fff" />
<polygon points="622.2,258.2 647.2,267.4 647.2,274.5 622.2,265.3" fill="#00a8ff" />
<polygon points="647.2,267.4 664.5,253.4 664.5,260.5 647.2,274.5" fill="#e6e6e6" />
<polygon points="622.2,258.2 647.2,267.4 647.2,276.0 622.2,266.8" fill="none" stroke="#3a3a3a" stroke-width="0.9" stroke-linejoin="round" />
<polygon points="647.2,267.4 664.5,253.4 664.5,262.0 647.2,276.0" fill="none" stroke="#3a3a3a" stroke-width="0.9" stroke-linejoin="round" />
<line x1="647.2" y1="274.4" x2="664.5" y2="260.4" stroke="#555" stroke-width="0.7" />
<line x1="622.2" y1="265.3" x2="647.2" y2="274.5" stroke="#6b7f8a" stroke-width="0.4" />
<polygon points="624.8,261.4 627.8,262.5 627.8,264.2 624.8,263.1" fill="#7adcff" />
<polygon points="622.2,258.2 647.2,267.4 664.5,253.4 639.5,244.2" fill="#fff" stroke="#3a3a3a" stroke-width="0.9" stroke-linejoin="round" />
<polygon points="632.3,285.6 657.3,294.8 657.3,303.4 632.3,294.2" fill="#fff" />
<polygon points="657.3,294.8 674.6,280.8 674.6,289.4 657.3,303.4" fill="#fff" />
<polygon points="632.3,285.6 657.3,294.8 657.3,301.9 632.3,292.7" fill="#00a8ff" />
<polygon points="657.3,294.8 674.6,280.8 674.6,287.9 657.3,301.9" fill="#e6e6e6" />
<polygon points="632.3,285.6 657.3,294.8 657.3,303.4 632.3,294.2" fill="none" stroke="#3a3a3a" stroke-width="0.9" stroke-linejoin="round" />
<polygon points="657.3,294.8 674.6,280.8 674.6,289.4 657.3,303.4" fill="none" stroke="#3a3a3a" stroke-width="0.9" stroke-linejoin="round" />
<line x1="657.3" y1="301.8" x2="674.6" y2="287.8" stroke="#555" stroke-width="0.7" />
<line x1="632.3" y1="292.7" x2="657.3" y2="301.9" stroke="#6b7f8a" stroke-width="0.4" />
<polygon points="634.9,288.8 637.9,289.9 637.9,291.6 634.9,290.5" fill="#7adcff" />
<polygon points="632.3,277.0 657.3,286.2 657.3,294.8 632.3,285.6" fill="#fff" />
<polygon points="657.3,286.2 674.6,272.2 674.6,280.8 657.3,294.8" fill="#fff" />
<polygon points="632.3,277.0 657.3,286.2 657.3,293.3 632.3,284.1" fill="#00a8ff" />
<polygon points="657.3,286.2 674.6,272.2 674.6,279.3 657.3,293.3" fill="#e6e6e6" />
<polygon points="632.3,277.0 657.3,286.2 657.3,294.8 632.3,285.6" fill="none" stroke="#3a3a3a" stroke-width="0.9" stroke-linejoin="round" />
<polygon points="657.3,286.2 674.6,272.2 674.6,280.8 657.3,294.8" fill="none" stroke="#3a3a3a" stroke-width="0.9" stroke-linejoin="round" />
<line x1="657.3" y1="293.2" x2="674.6" y2="279.2" stroke="#555" stroke-width="0.7" />
<line x1="632.3" y1="284.1" x2="657.3" y2="293.3" stroke="#6b7f8a" stroke-width="0.4" />
<polygon points="634.9,280.2 637.9,281.3 637.9,283.0 634.9,281.9" fill="#7adcff" />
<polygon points="632.3,268.4 657.3,277.6 657.3,286.2 632.3,277.0" fill="#fff" />
<polygon points="657.3,277.6 674.6,263.6 674.6,272.2 657.3,286.2" fill="#fff" />
<polygon points="632.3,268.4 657.3,277.6 657.3,284.7 632.3,275.5" fill="#00a8ff" />
<polygon points="657.3,277.6 674.6,263.6 674.6,270.7 657.3,284.7" fill="#e6e6e6" />
<polygon points="632.3,268.4 657.3,277.6 657.3,286.2 632.3,277.0" fill="none" stroke="#3a3a3a" stroke-width="0.9" stroke-linejoin="round" />
<polygon points="657.3,277.6 674.6,263.6 674.6,272.2 657.3,286.2" fill="none" stroke="#3a3a3a" stroke-width="0.9" stroke-linejoin="round" />
<line x1="657.3" y1="284.6" x2="674.6" y2="270.6" stroke="#555" stroke-width="0.7" />
<line x1="632.3" y1="275.5" x2="657.3" y2="284.7" stroke="#6b7f8a" stroke-width="0.4" />
<polygon points="634.9,271.6 637.9,272.7 637.9,274.4 634.9,273.3" fill="#7adcff" />
<polygon points="632.3,268.4 657.3,277.6 674.6,263.6 649.6,254.4" fill="#fff" stroke="#3a3a3a" stroke-width="0.9" stroke-linejoin="round" />
<line x1="203.0" y1="256.0" x2="242.6" y2="241.6" stroke="#e4e4e4" stroke-width="1" />
<line x1="203.0" y1="256.0" x2="234.2" y2="264.6" stroke="#e4e4e4" stroke-width="1" />
<line x1="242.6" y1="241.6" x2="234.2" y2="264.6" stroke="#e4e4e4" stroke-width="1" />
<ellipse cx="203.0" cy="256.0" rx="7.2" ry="3.8" fill="#dfdfdf"/>
<ellipse cx="242.6" cy="241.6" rx="7.2" ry="3.8" fill="#dfdfdf"/>
<ellipse cx="234.2" cy="264.6" rx="7.2" ry="3.8" fill="#dfdfdf"/>
<line x1="202.0" y1="241.9" x2="241.2" y2="228.5" stroke="#3a3a3a" stroke-width="1" />
<line x1="202.0" y1="241.9" x2="232.9" y2="253.4" stroke="#3a3a3a" stroke-width="1" />
<line x1="241.2" y1="228.5" x2="232.9" y2="253.4" stroke="#3a3a3a" stroke-width="1" />
<g transform="translate(202.0 235.9) skewY(-11) translate(-202.0 -235.9)">
<path d="M195.1,235.9 v8.1 a6.9,3.7 0 0 0 13.8,0 v-8.1 z" fill="#fff" stroke="#3a3a3a" stroke-width="0.9"/>
<path d="M195.1,236.3 a6.9,3.7 0 0 0 13.8,0 v2.4 a6.9,3.7 0 0 1 -13.8,0 z" fill="#00a8ff" stroke="#3a3a3a" stroke-width="0.45"/>
<path d="M195.1,240.9 a6.9,3.7 0 0 0 13.8,0 v3.1 a6.9,3.7 0 0 1 -13.8,0 z" fill="#00a8ff" stroke="#3a3a3a" stroke-width="0.45"/>
<ellipse cx="202.0" cy="235.9" rx="6.9" ry="3.7" fill="#fff" stroke="#3a3a3a" stroke-width="0.9"/>
</g>
<g transform="translate(241.2 222.5) skewY(-11) translate(-241.2 -222.5)">
<path d="M234.3,222.5 v8.1 a6.9,3.7 0 0 0 13.8,0 v-8.1 z" fill="#fff" stroke="#3a3a3a" stroke-width="0.9"/>
<path d="M234.3,222.9 a6.9,3.7 0 0 0 13.8,0 v2.4 a6.9,3.7 0 0 1 -13.8,0 z" fill="#00a8ff" stroke="#3a3a3a" stroke-width="0.45"/>
<path d="M234.3,227.5 a6.9,3.7 0 0 0 13.8,0 v3.1 a6.9,3.7 0 0 1 -13.8,0 z" fill="#00a8ff" stroke="#3a3a3a" stroke-width="0.45"/>
<ellipse cx="241.2" cy="222.5" rx="6.9" ry="3.7" fill="#fff" stroke="#3a3a3a" stroke-width="0.9"/>
</g>
<g transform="translate(232.9 247.4) skewY(-11) translate(-232.9 -247.4)">
<path d="M226.0,247.4 v8.1 a6.9,3.7 0 0 0 13.8,0 v-8.1 z" fill="#fff" stroke="#3a3a3a" stroke-width="0.9"/>
<path d="M226.0,247.8 a6.9,3.7 0 0 0 13.8,0 v2.4 a6.9,3.7 0 0 1 -13.8,0 z" fill="#00a8ff" stroke="#3a3a3a" stroke-width="0.45"/>
<path d="M226.0,252.4 a6.9,3.7 0 0 0 13.8,0 v3.1 a6.9,3.7 0 0 1 -13.8,0 z" fill="#00a8ff" stroke="#3a3a3a" stroke-width="0.45"/>
<ellipse cx="232.9" cy="247.4" rx="6.9" ry="3.7" fill="#fff" stroke="#3a3a3a" stroke-width="0.9"/>
</g>
<line x1="307.9" y1="293.0" x2="347.5" y2="278.6" stroke="#e4e4e4" stroke-width="1" />
<line x1="307.9" y1="293.0" x2="339.1" y2="301.6" stroke="#e4e4e4" stroke-width="1" />
<line x1="347.5" y1="278.6" x2="339.1" y2="301.6" stroke="#e4e4e4" stroke-width="1" />
<ellipse cx="307.9" cy="293.0" rx="7.2" ry="3.8" fill="#dfdfdf"/>
<ellipse cx="347.5" cy="278.6" rx="7.2" ry="3.8" fill="#dfdfdf"/>
<ellipse cx="339.1" cy="301.6" rx="7.2" ry="3.8" fill="#dfdfdf"/>
<line x1="306.9" y1="278.9" x2="346.1" y2="265.5" stroke="#3a3a3a" stroke-width="1" />
<line x1="306.9" y1="278.9" x2="337.8" y2="290.4" stroke="#3a3a3a" stroke-width="1" />
<line x1="346.1" y1="265.5" x2="337.8" y2="290.4" stroke="#3a3a3a" stroke-width="1" />
<g transform="translate(306.9 272.9) skewY(-11) translate(-306.9 -272.9)">
<path d="M300.0,272.9 v8.1 a6.9,3.7 0 0 0 13.8,0 v-8.1 z" fill="#fff" stroke="#3a3a3a" stroke-width="0.9"/>
<path d="M300.0,273.3 a6.9,3.7 0 0 0 13.8,0 v2.4 a6.9,3.7 0 0 1 -13.8,0 z" fill="#00a8ff" stroke="#3a3a3a" stroke-width="0.45"/>
<path d="M300.0,277.9 a6.9,3.7 0 0 0 13.8,0 v3.1 a6.9,3.7 0 0 1 -13.8,0 z" fill="#00a8ff" stroke="#3a3a3a" stroke-width="0.45"/>
<ellipse cx="306.9" cy="272.9" rx="6.9" ry="3.7" fill="#fff" stroke="#3a3a3a" stroke-width="0.9"/>
</g>
<g transform="translate(346.1 259.5) skewY(-11) translate(-346.1 -259.5)">
<path d="M339.2,259.5 v8.1 a6.9,3.7 0 0 0 13.8,0 v-8.1 z" fill="#fff" stroke="#3a3a3a" stroke-width="0.9"/>
<path d="M339.2,259.9 a6.9,3.7 0 0 0 13.8,0 v2.4 a6.9,3.7 0 0 1 -13.8,0 z" fill="#00a8ff" stroke="#3a3a3a" stroke-width="0.45"/>
<path d="M339.2,264.5 a6.9,3.7 0 0 0 13.8,0 v3.1 a6.9,3.7 0 0 1 -13.8,0 z" fill="#00a8ff" stroke="#3a3a3a" stroke-width="0.45"/>
<ellipse cx="346.1" cy="259.5" rx="6.9" ry="3.7" fill="#fff" stroke="#3a3a3a" stroke-width="0.9"/>
</g>
<g transform="translate(337.8 284.4) skewY(-11) translate(-337.8 -284.4)">
<path d="M330.9,284.4 v8.1 a6.9,3.7 0 0 0 13.8,0 v-8.1 z" fill="#fff" stroke="#3a3a3a" stroke-width="0.9"/>
<path d="M330.9,284.8 a6.9,3.7 0 0 0 13.8,0 v2.4 a6.9,3.7 0 0 1 -13.8,0 z" fill="#00a8ff" stroke="#3a3a3a" stroke-width="0.45"/>
<path d="M330.9,289.4 a6.9,3.7 0 0 0 13.8,0 v3.1 a6.9,3.7 0 0 1 -13.8,0 z" fill="#00a8ff" stroke="#3a3a3a" stroke-width="0.45"/>
<ellipse cx="337.8" cy="284.4" rx="6.9" ry="3.7" fill="#fff" stroke="#3a3a3a" stroke-width="0.9"/>
</g>
<line x1="412.9" y1="329.9" x2="452.5" y2="315.5" stroke="#e4e4e4" stroke-width="1" />
<line x1="412.9" y1="329.9" x2="444.1" y2="338.5" stroke="#e4e4e4" stroke-width="1" />
<line x1="452.5" y1="315.5" x2="444.1" y2="338.5" stroke="#e4e4e4" stroke-width="1" />
<ellipse cx="412.9" cy="329.9" rx="7.2" ry="3.8" fill="#dfdfdf"/>
<ellipse cx="452.5" cy="315.5" rx="7.2" ry="3.8" fill="#dfdfdf"/>
<ellipse cx="444.1" cy="338.5" rx="7.2" ry="3.8" fill="#dfdfdf"/>
<line x1="411.9" y1="315.8" x2="451.1" y2="302.4" stroke="#3a3a3a" stroke-width="1" />
<line x1="411.9" y1="315.8" x2="442.8" y2="327.3" stroke="#3a3a3a" stroke-width="1" />
<line x1="451.1" y1="302.4" x2="442.8" y2="327.3" stroke="#3a3a3a" stroke-width="1" />
<g transform="translate(411.9 309.8) skewY(-11) translate(-411.9 -309.8)">
<path d="M405.0,309.8 v8.1 a6.9,3.7 0 0 0 13.8,0 v-8.1 z" fill="#fff" stroke="#3a3a3a" stroke-width="0.9"/>
<path d="M405.0,310.2 a6.9,3.7 0 0 0 13.8,0 v2.4 a6.9,3.7 0 0 1 -13.8,0 z" fill="#00a8ff" stroke="#3a3a3a" stroke-width="0.45"/>
<path d="M405.0,314.8 a6.9,3.7 0 0 0 13.8,0 v3.1 a6.9,3.7 0 0 1 -13.8,0 z" fill="#00a8ff" stroke="#3a3a3a" stroke-width="0.45"/>
<ellipse cx="411.9" cy="309.8" rx="6.9" ry="3.7" fill="#fff" stroke="#3a3a3a" stroke-width="0.9"/>
</g>
<g transform="translate(451.1 296.4) skewY(-11) translate(-451.1 -296.4)">
<path d="M444.2,296.4 v8.1 a6.9,3.7 0 0 0 13.8,0 v-8.1 z" fill="#fff" stroke="#3a3a3a" stroke-width="0.9"/>
<path d="M444.2,296.8 a6.9,3.7 0 0 0 13.8,0 v2.4 a6.9,3.7 0 0 1 -13.8,0 z" fill="#00a8ff" stroke="#3a3a3a" stroke-width="0.45"/>
<path d="M444.2,301.4 a6.9,3.7 0 0 0 13.8,0 v3.1 a6.9,3.7 0 0 1 -13.8,0 z" fill="#00a8ff" stroke="#3a3a3a" stroke-width="0.45"/>
<ellipse cx="451.1" cy="296.4" rx="6.9" ry="3.7" fill="#fff" stroke="#3a3a3a" stroke-width="0.9"/>
</g>
<g transform="translate(442.8 321.3) skewY(-11) translate(-442.8 -321.3)">
<path d="M435.9,321.3 v8.1 a6.9,3.7 0 0 0 13.8,0 v-8.1 z" fill="#fff" stroke="#3a3a3a" stroke-width="0.9"/>
<path d="M435.9,321.7 a6.9,3.7 0 0 0 13.8,0 v2.4 a6.9,3.7 0 0 1 -13.8,0 z" fill="#00a8ff" stroke="#3a3a3a" stroke-width="0.45"/>
<path d="M435.9,326.3 a6.9,3.7 0 0 0 13.8,0 v3.1 a6.9,3.7 0 0 1 -13.8,0 z" fill="#00a8ff" stroke="#3a3a3a" stroke-width="0.45"/>
<ellipse cx="442.8" cy="321.3" rx="6.9" ry="3.7" fill="#fff" stroke="#3a3a3a" stroke-width="0.9"/>
</g>
<line x1="518.9" y1="366.9" x2="558.5" y2="352.5" stroke="#e4e4e4" stroke-width="1" />
<line x1="518.9" y1="366.9" x2="550.1" y2="375.5" stroke="#e4e4e4" stroke-width="1" />
<line x1="558.5" y1="352.5" x2="550.1" y2="375.5" stroke="#e4e4e4" stroke-width="1" />
<ellipse cx="518.9" cy="366.9" rx="7.2" ry="3.8" fill="#dfdfdf"/>
<ellipse cx="558.5" cy="352.5" rx="7.2" ry="3.8" fill="#dfdfdf"/>
<ellipse cx="550.1" cy="375.5" rx="7.2" ry="3.8" fill="#dfdfdf"/>
<line x1="517.9" y1="352.8" x2="557.1" y2="339.4" stroke="#3a3a3a" stroke-width="1" />
<line x1="517.9" y1="352.8" x2="548.8" y2="364.3" stroke="#3a3a3a" stroke-width="1" />
<line x1="557.1" y1="339.4" x2="548.8" y2="364.3" stroke="#3a3a3a" stroke-width="1" />
<g transform="translate(517.9 346.8) skewY(-11) translate(-517.9 -346.8)">
<path d="M511.0,346.8 v8.1 a6.9,3.7 0 0 0 13.8,0 v-8.1 z" fill="#fff" stroke="#3a3a3a" stroke-width="0.9"/>
<path d="M511.0,347.2 a6.9,3.7 0 0 0 13.8,0 v2.4 a6.9,3.7 0 0 1 -13.8,0 z" fill="#00a8ff" stroke="#3a3a3a" stroke-width="0.45"/>
<path d="M511.0,351.8 a6.9,3.7 0 0 0 13.8,0 v3.1 a6.9,3.7 0 0 1 -13.8,0 z" fill="#00a8ff" stroke="#3a3a3a" stroke-width="0.45"/>
<ellipse cx="517.9" cy="346.8" rx="6.9" ry="3.7" fill="#fff" stroke="#3a3a3a" stroke-width="0.9"/>
</g>
<g transform="translate(557.1 333.4) skewY(-11) translate(-557.1 -333.4)">
<path d="M550.2,333.4 v8.1 a6.9,3.7 0 0 0 13.8,0 v-8.1 z" fill="#fff" stroke="#3a3a3a" stroke-width="0.9"/>
<path d="M550.2,333.8 a6.9,3.7 0 0 0 13.8,0 v2.4 a6.9,3.7 0 0 1 -13.8,0 z" fill="#00a8ff" stroke="#3a3a3a" stroke-width="0.45"/>
<path d="M550.2,338.4 a6.9,3.7 0 0 0 13.8,0 v3.1 a6.9,3.7 0 0 1 -13.8,0 z" fill="#00a8ff" stroke="#3a3a3a" stroke-width="0.45"/>
<ellipse cx="557.1" cy="333.4" rx="6.9" ry="3.7" fill="#fff" stroke="#3a3a3a" stroke-width="0.9"/>
</g>
<g transform="translate(548.8 358.3) skewY(-11) translate(-548.8 -358.3)">
<path d="M541.9,358.3 v8.1 a6.9,3.7 0 0 0 13.8,0 v-8.1 z" fill="#fff" stroke="#3a3a3a" stroke-width="0.9"/>
<path d="M541.9,358.7 a6.9,3.7 0 0 0 13.8,0 v2.4 a6.9,3.7 0 0 1 -13.8,0 z" fill="#00a8ff" stroke="#3a3a3a" stroke-width="0.45"/>
<path d="M541.9,363.3 a6.9,3.7 0 0 0 13.8,0 v3.1 a6.9,3.7 0 0 1 -13.8,0 z" fill="#00a8ff" stroke="#3a3a3a" stroke-width="0.45"/>
<ellipse cx="548.8" cy="358.3" rx="6.9" ry="3.7" fill="#fff" stroke="#3a3a3a" stroke-width="0.9"/>
</g>
<ellipse cx="68.7" cy="379.1" rx="28.2" ry="17.6" fill="none" stroke="#5a5a5a" stroke-width="0.9"/>
<ellipse cx="68.7" cy="371.3" rx="28.3" ry="9.6" fill="none" stroke="#5a5a5a" stroke-width="0.9"/>
<ellipse cx="68.7" cy="365.1" rx="28.3" ry="5.9" fill="none" stroke="#5a5a5a" stroke-width="0.9"/>
<ellipse cx="68.7" cy="351.1" rx="28.3" ry="5.8" fill="none" stroke="#5a5a5a" stroke-width="0.9"/>
<circle cx="68.7" cy="364.5" r="21.6" fill="url(#gl)"/>
<path d="M47.1,364.7 Q68.7,366.7 90.3,364.7 A21.6,21.6 0 0 1 47.1,364.7 Z" fill="url(#gl2)"/>
<path d="M52.8,379.1 Q68.7,381.7 84.6,379.1 A21.6,21.6 0 0 1 52.8,379.1 Z" fill="#1bb1fb"/>
<circle cx="68.7" cy="364.5" r="21.6" fill="none" stroke="#636363" stroke-width="0.9"/>
<path d="M47.1,364.7 Q68.7,366.7 90.3,364.7" fill="none" stroke="#5a5a5a" stroke-width="0.9"/>
<path d="M52.8,379.1 Q68.7,381.7 84.6,379.1" fill="none" stroke="#5a5a5a" stroke-width="0.9"/>
<path d="M58.4,345.5 Q68.7,347.1 79.0,345.5" fill="none" stroke="#5a5a5a" stroke-width="0.8"/>
<ellipse cx="386.9" cy="491.1" rx="28.2" ry="17.6" fill="none" stroke="#5a5a5a" stroke-width="0.9"/>
<ellipse cx="386.9" cy="483.3" rx="28.3" ry="9.6" fill="none" stroke="#5a5a5a" stroke-width="0.9"/>
<ellipse cx="386.9" cy="477.1" rx="28.3" ry="5.9" fill="none" stroke="#5a5a5a" stroke-width="0.9"/>
<ellipse cx="386.9" cy="463.1" rx="28.3" ry="5.8" fill="none" stroke="#5a5a5a" stroke-width="0.9"/>
<circle cx="386.9" cy="476.5" r="21.6" fill="url(#gl)"/>
<path d="M365.3,476.7 Q386.9,478.7 408.5,476.7 A21.6,21.6 0 0 1 365.3,476.7 Z" fill="url(#gl2)"/>
<path d="M371.0,491.1 Q386.9,493.7 402.8,491.1 A21.6,21.6 0 0 1 371.0,491.1 Z" fill="#1bb1fb"/>
<circle cx="386.9" cy="476.5" r="21.6" fill="none" stroke="#636363" stroke-width="0.9"/>
<path d="M365.3,476.7 Q386.9,478.7 408.5,476.7" fill="none" stroke="#5a5a5a" stroke-width="0.9"/>
<path d="M371.0,491.1 Q386.9,493.7 402.8,491.1" fill="none" stroke="#5a5a5a" stroke-width="0.9"/>
<path d="M376.6,457.5 Q386.9,459.1 397.2,457.5" fill="none" stroke="#5a5a5a" stroke-width="0.8"/>
<polygon points="481.5,30.3 509.6,39.5 509.6,48.8 481.5,39.6" fill="#00a8ff" stroke="#3a3a3a" stroke-width="0.9" stroke-linejoin="round" />
<polygon points="509.6,39.5 526.6,25.9 526.6,35.2 509.6,48.8" fill="#e6e6e6" stroke="#3a3a3a" stroke-width="0.9" stroke-linejoin="round" />
<polygon points="481.5,30.3 509.6,39.5 526.6,25.9 498.5,16.7" fill="#fff" stroke="#3a3a3a" stroke-width="0.9" stroke-linejoin="round" />
<polygon points="481.5,14.2 509.6,23.4 509.6,32.7 481.5,23.5" fill="#00a8ff" stroke="#3a3a3a" stroke-width="0.9" stroke-linejoin="round" />
<polygon points="509.6,23.4 526.6,9.8 526.6,19.1 509.6,32.7" fill="#e6e6e6" stroke="#3a3a3a" stroke-width="0.9" stroke-linejoin="round" />
<polygon points="481.5,14.2 509.6,23.4 526.6,9.8 498.5,0.6" fill="#fff" stroke="#3a3a3a" stroke-width="0.9" stroke-linejoin="round" />
<line x1="483.8" y1="15.6" x2="483.8" y2="23.7" stroke="#fff" stroke-width="1.3" />
<line x1="483.8" y1="31.7" x2="483.8" y2="39.8" stroke="#fff" stroke-width="1.3" />
<line x1="486.7" y1="16.6" x2="486.7" y2="24.7" stroke="#fff" stroke-width="1.3" />
<line x1="486.7" y1="32.7" x2="486.7" y2="40.8" stroke="#fff" stroke-width="1.3" />
<line x1="489.6" y1="17.6" x2="489.6" y2="25.7" stroke="#fff" stroke-width="1.3" />
<line x1="489.6" y1="33.7" x2="489.6" y2="41.8" stroke="#fff" stroke-width="1.3" />
<line x1="492.5" y1="18.5" x2="492.5" y2="26.6" stroke="#fff" stroke-width="1.3" />
<line x1="492.5" y1="34.6" x2="492.5" y2="42.7" stroke="#fff" stroke-width="1.3" />
<line x1="495.5" y1="19.5" x2="495.5" y2="27.6" stroke="#fff" stroke-width="1.3" />
<line x1="495.5" y1="35.6" x2="495.5" y2="43.7" stroke="#fff" stroke-width="1.3" />
<line x1="498.4" y1="20.4" x2="498.4" y2="28.5" stroke="#fff" stroke-width="1.3" />
<line x1="498.4" y1="36.5" x2="498.4" y2="44.6" stroke="#fff" stroke-width="1.3" />
<line x1="501.3" y1="21.4" x2="501.3" y2="29.5" stroke="#fff" stroke-width="1.3" />
<line x1="501.3" y1="37.5" x2="501.3" y2="45.6" stroke="#fff" stroke-width="1.3" />
<line x1="504.3" y1="22.4" x2="504.3" y2="30.5" stroke="#fff" stroke-width="1.3" />
<line x1="504.3" y1="38.5" x2="504.3" y2="46.6" stroke="#fff" stroke-width="1.3" />
<line x1="507.2" y1="23.3" x2="507.2" y2="31.4" stroke="#fff" stroke-width="1.3" />
<line x1="507.2" y1="39.4" x2="507.2" y2="47.5" stroke="#fff" stroke-width="1.3" />
<polygon points="589.5,64.2 603.7,69.2 603.7,81.2 589.5,76.2" fill="#00a8ff" stroke="#3a3a3a" stroke-width="0.9" stroke-linejoin="round" />
<polygon points="603.7,69.2 620.7,54.8 620.7,66.8 603.7,81.2" fill="#e6e6e6" stroke="#3a3a3a" stroke-width="0.9" stroke-linejoin="round" />
<polygon points="589.5,64.2 603.7,69.2 620.7,54.8 606.5,49.8" fill="#fff" stroke="#3a3a3a" stroke-width="0.9" stroke-linejoin="round" />
<polygon points="589.5,50.5 603.7,55.5 603.7,67.5 589.5,62.5" fill="#00a8ff" stroke="#3a3a3a" stroke-width="0.9" stroke-linejoin="round" />
<polygon points="603.7,55.5 620.7,41.1 620.7,53.1 603.7,67.5" fill="#e6e6e6" stroke="#3a3a3a" stroke-width="0.9" stroke-linejoin="round" />
<polygon points="589.5,50.5 603.7,55.5 620.7,41.1 606.5,36.1" fill="#fff" stroke="#3a3a3a" stroke-width="0.9" stroke-linejoin="round" />
<polygon points="605.4,70.4 619.6,75.4 619.6,87.6 605.4,82.6" fill="#00a8ff" stroke="#3a3a3a" stroke-width="0.9" stroke-linejoin="round" />
<polygon points="619.6,75.4 636.4,61.1 636.4,73.3 619.6,87.6" fill="#e6e6e6" stroke="#3a3a3a" stroke-width="0.9" stroke-linejoin="round" />
<polygon points="605.4,70.4 619.6,75.4 636.4,61.1 622.2,56.1" fill="#fff" stroke="#3a3a3a" stroke-width="0.9" stroke-linejoin="round" />
<polygon points="605.4,56.7 619.6,61.7 619.6,73.7 605.4,68.7" fill="#00a8ff" stroke="#3a3a3a" stroke-width="0.9" stroke-linejoin="round" />
<polygon points="619.6,61.7 636.4,47.4 636.4,59.4 619.6,73.7" fill="#e6e6e6" stroke="#3a3a3a" stroke-width="0.9" stroke-linejoin="round" />
<polygon points="605.4,56.7 619.6,61.7 636.4,47.4 622.2,42.4" fill="#fff" stroke="#3a3a3a" stroke-width="0.9" stroke-linejoin="round" />
<polygon points="691.5,96.8 709.0,102.8 709.0,111.0 691.5,105.0" fill="#00a8ff" stroke="#3a3a3a" stroke-width="0.9" stroke-linejoin="round" />
<polygon points="709.0,102.8 717.0,96.8 717.0,105.0 709.0,111.0" fill="#e6e6e6" stroke="#3a3a3a" stroke-width="0.9" stroke-linejoin="round" />
<polygon points="691.5,96.8 709.0,102.8 717.0,96.8 699.5,90.8" fill="#fff" stroke="#3a3a3a" stroke-width="0.9" stroke-linejoin="round" />
<polygon points="701.7,107.1 726.2,115.5 726.2,123.7 701.7,115.3" fill="#00a8ff" stroke="#3a3a3a" stroke-width="0.9" stroke-linejoin="round" />
<polygon points="726.2,115.5 743.7,101.4 743.7,109.6 726.2,123.7" fill="#e6e6e6" stroke="#3a3a3a" stroke-width="0.9" stroke-linejoin="round" />
<polygon points="701.7,107.1 726.2,115.5 743.7,101.4 719.2,93.0" fill="#fff" stroke="#3a3a3a" stroke-width="0.9" stroke-linejoin="round" />
<polygon points="697.9,88.1 711.9,92.8 711.9,97.3 697.9,92.6" fill="#00a8ff" stroke="#3a3a3a" stroke-width="0.9" stroke-linejoin="round" />
<polygon points="711.9,92.8 718.9,87.6 718.9,92.1 711.9,97.3" fill="#e6e6e6" stroke="#3a3a3a" stroke-width="0.9" stroke-linejoin="round" />
<polygon points="697.9,88.1 711.9,92.8 718.9,87.6 704.9,82.9" fill="#fff" stroke="#3a3a3a" stroke-width="0.9" stroke-linejoin="round" />
<polygon points="708.1,98.5 725.0,104.3 725.0,108.9 708.1,103.1" fill="#00a8ff" stroke="#3a3a3a" stroke-width="0.9" stroke-linejoin="round" />
<polygon points="725.0,104.3 737.4,93.6 737.4,98.2 725.0,108.9" fill="#e6e6e6" stroke="#3a3a3a" stroke-width="0.9" stroke-linejoin="round" />
<polygon points="708.1,98.5 725.0,104.3 737.4,93.6 720.5,87.8" fill="#fff" stroke="#3a3a3a" stroke-width="0.9" stroke-linejoin="round" />
<polygon points="702.5,80.6 714.1,84.4 714.1,87.4 702.5,83.6" fill="#00a8ff" stroke="#3a3a3a" stroke-width="0.9" stroke-linejoin="round" />
<polygon points="714.1,84.4 722.6,76.4 722.6,79.4 714.1,87.4" fill="#e6e6e6" stroke="#3a3a3a" stroke-width="0.9" stroke-linejoin="round" />
<polygon points="702.5,80.6 714.1,84.4 722.6,76.4 711.0,72.6" fill="#fff" stroke="#3a3a3a" stroke-width="0.9" stroke-linejoin="round" />
<polygon points="712.7,90.6 723.9,94.4 723.9,97.2 712.7,93.4" fill="#00a8ff" stroke="#3a3a3a" stroke-width="0.9" stroke-linejoin="round" />
<polygon points="723.9,94.4 732.5,88.6 732.5,91.4 723.9,97.2" fill="#e6e6e6" stroke="#3a3a3a" stroke-width="0.9" stroke-linejoin="round" />
<polygon points="712.7,90.6 723.9,94.4 732.5,88.6 721.3,84.8" fill="#fff" stroke="#3a3a3a" stroke-width="0.9" stroke-linejoin="round" />
<g>
<path d="M798.5,122.0 v22.1 a21.0,11.2 0 0 0 42.0,0 v-22.1 z" fill="#fff" stroke="#3a3a3a" stroke-width="1"/>
<path d="M798.5,122.4 a21.0,11.2 0 0 0 42.0,0 v4.4 a21.0,11.2 0 0 1 -42.0,0 z" fill="#00a8ff" stroke="#3a3a3a" stroke-width="0.60"/>
<path d="M798.5,129.2 a21.0,11.2 0 0 0 42.0,0 v6.5 a21.0,11.2 0 0 1 -42.0,0 z" fill="#00a8ff" stroke="#3a3a3a" stroke-width="0.60"/>
<path d="M798.5,138.0 a21.0,11.2 0 0 0 42.0,0 v6.1 a21.0,11.2 0 0 1 -42.0,0 z" fill="#00a8ff" stroke="#3a3a3a" stroke-width="0.60"/>
<ellipse cx="819.5" cy="122.0" rx="21.0" ry="11.2" fill="#fff" stroke="#3a3a3a" stroke-width="1"/>
</g>
<g>
<path d="M821.8,143.1 v11.8 a11.9,6.2 0 0 0 23.8,0 v-11.8 z" fill="#fff" stroke="#3a3a3a" stroke-width="0.9"/>
<path d="M821.8,143.4 a11.9,6.2 0 0 0 23.8,0 v2.0 a11.9,6.2 0 0 1 -23.8,0 z" fill="#00a8ff" stroke="#3a3a3a" stroke-width="0.55"/>
<path d="M821.8,147.0 a11.9,6.2 0 0 0 23.8,0 v2.3 a11.9,6.2 0 0 1 -23.8,0 z" fill="#00a8ff" stroke="#3a3a3a" stroke-width="0.55"/>
<path d="M821.8,150.9 a11.9,6.2 0 0 0 23.8,0 v4.0 a11.9,6.2 0 0 1 -23.8,0 z" fill="#00a8ff" stroke="#3a3a3a" stroke-width="0.55"/>
<ellipse cx="833.7" cy="143.1" rx="11.9" ry="6.2" fill="#fff" stroke="#3a3a3a" stroke-width="0.9"/>
</g>
<polygon points="176.3,389.7 181.6,386.2 211.5,396.4 206.4,400.0" fill="#fff" stroke="#3a3a3a" stroke-width="0.9" stroke-linejoin="round" />
<polygon points="206.4,400.0 211.5,396.4 211.5,430.6 206.4,434.4" fill="#dcdcdc" stroke="#3a3a3a" stroke-width="0.9" stroke-linejoin="round" />
<polygon points="176.3,389.7 206.4,400.0 206.4,434.4 176.3,423.8" fill="#00a8ff" stroke="#3a3a3a" stroke-width="0.9" stroke-linejoin="round" />
<polyline points="177.4,407.4 181.6,408.9 186.1,420.8 189.9,411.0 193.7,412.6 197.5,403.6 202.0,418.6 205.6,413.4" fill="none" stroke="#2ff4ff" stroke-width="1.15" stroke-linejoin="round"/>
<path d="M198.1,429.9 C196.6,428.6 196.0,426.6 196.6,425.2 C197.2,423.2 198.8,422.0 200.4,422.1 C201.2,422.0 201.9,422.3 202.4,422.7 C203.0,420.6 205.0,419.2 207.4,419.3 C210.0,419.5 211.6,421.6 212.2,424.4 C212.6,425.8 213.0,426.7 213.8,427.2 C216.0,427.6 218.2,429.6 218.9,432.6 C219.4,434.8 218.4,436.2 216.7,436.4 Z" transform="translate(1.9,-1.0)" fill="#fff" stroke="#444" stroke-width="1" stroke-linejoin="round"/>
<path d="M198.1,429.9 C196.6,428.6 196.0,426.6 196.6,425.2 C197.2,423.2 198.8,422.0 200.4,422.1 C201.2,422.0 201.9,422.3 202.4,422.7 C203.0,420.6 205.0,419.2 207.4,419.3 C210.0,419.5 211.6,421.6 212.2,424.4 C212.6,425.8 213.0,426.7 213.8,427.2 C216.0,427.6 218.2,429.6 218.9,432.6 C219.4,434.8 218.4,436.2 216.7,436.4 Z" fill="#fff" stroke="#444" stroke-width="1" stroke-linejoin="round"/>
<polygon points="243.5,412.5 248.8,409.1 278.6,419.6 274.9,423.0" fill="#fff" stroke="#3a3a3a" stroke-width="0.9" stroke-linejoin="round" />
<polygon points="274.9,423.0 278.6,419.6 278.6,452.6 274.9,456.2" fill="#dcdcdc" stroke="#3a3a3a" stroke-width="0.9" stroke-linejoin="round" />
<polygon points="243.5,412.5 274.9,423.0 274.9,456.2 243.5,446.2" fill="#cf4708" />
<line x1="243.5" y1="418.1" x2="274.9" y2="428.5" stroke="#fff" stroke-width="0.95" />
<line x1="243.5" y1="423.7" x2="274.9" y2="434.1" stroke="#fff" stroke-width="0.95" />
<line x1="243.5" y1="429.4" x2="274.9" y2="439.6" stroke="#fff" stroke-width="0.95" />
<line x1="243.5" y1="435.0" x2="274.9" y2="445.1" stroke="#fff" stroke-width="0.95" />
<line x1="243.5" y1="440.6" x2="274.9" y2="450.7" stroke="#fff" stroke-width="0.95" />
<line x1="250.3" y1="414.8" x2="250.3" y2="420.4" stroke="#fff" stroke-width="0.95" />
<line x1="266.4" y1="420.2" x2="266.4" y2="425.7" stroke="#fff" stroke-width="0.95" />
<line x1="258.6" y1="423.1" x2="258.6" y2="428.7" stroke="#fff" stroke-width="0.95" />
<line x1="250.3" y1="426.0" x2="250.3" y2="431.6" stroke="#fff" stroke-width="0.95" />
<line x1="266.4" y1="431.3" x2="266.4" y2="436.8" stroke="#fff" stroke-width="0.95" />
<line x1="258.6" y1="434.3" x2="258.6" y2="439.9" stroke="#fff" stroke-width="0.95" />
<line x1="250.3" y1="437.2" x2="250.3" y2="442.8" stroke="#fff" stroke-width="0.95" />
<line x1="266.4" y1="442.4" x2="266.4" y2="447.9" stroke="#fff" stroke-width="0.95" />
<line x1="258.6" y1="445.4" x2="258.6" y2="451.0" stroke="#fff" stroke-width="0.95" />
<polygon points="243.5,412.5 274.9,423.0 274.9,456.2 243.5,446.2" fill="none" stroke="#3a3a3a" stroke-width="0.9" stroke-linejoin="round" />
<polygon points="77.3,491.5 82.8,487.8 128.5,503.8 123.6,507.1" fill="#fff" stroke="#3a3a3a" stroke-width="0.9" stroke-linejoin="round" />
<polygon points="123.6,507.1 128.5,503.8 128.5,548.0 123.6,551.7" fill="#dcdcdc" stroke="#3a3a3a" stroke-width="0.9" stroke-linejoin="round" />
<polygon points="77.3,491.5 123.6,507.1 123.6,551.7 77.3,536.0" fill="#00a8ff" stroke="#3a3a3a" stroke-width="0.9" stroke-linejoin="round" />
<path d="M85,525.6 L95.6,524.4 C97.2,523.8 96.9,522.2 96.3,521 C94.6,519 93.8,516 94.2,513.5 C94.2,510.4 95.6,508 98.9,507.5 C102.5,507.3 104.8,509.5 105.2,512.5 C106.3,514.5 106.2,517.5 105.4,519.5 C104.6,521.5 104.0,523.2 104.8,525.8 L115.6,534.3 L115.6,540.8 L85,530.3 Z" fill="#fff"/>
<polygon points="424.3,96.4 437.8,102.1 461.8,81.1 448.5,78.0" fill="url(#ga0)" />
<polygon points="415.8,110.7 417.0,91.5 449.8,102.8" fill="#00a8ff" />
<polygon points="538.6,137.1 552.1,142.8 576.1,121.8 562.8,118.7" fill="url(#ga1)" />
<polygon points="530.1,151.4 531.3,132.2 564.1,143.5" fill="#00a8ff" />
<polygon points="645.4,175.7 658.9,181.4 682.9,160.4 669.6,157.3" fill="url(#ga2)" />
<polygon points="636.9,190.0 638.1,170.8 670.9,182.1" fill="#00a8ff" />
<polygon points="747.2,212.5 760.7,218.2 784.7,197.2 771.4,194.1" fill="url(#ga3)" />
<polygon points="738.7,226.8 739.9,207.6 772.7,218.9" fill="#00a8ff" />
<polygon points="157.4,489.3 170.3,494.3 145.9,512.7 133.5,508.9" fill="url(#gu)" />
<polygon points="178.9,480.0 145.0,487.0 178.9,499.5" fill="#00a8ff" />
<rect x="442.5" y="50.4" width="117.0" height="25" fill="#fff" stroke="#dcdcdc" stroke-width="1"/>
<text x="501.0" y="68.8" text-anchor="middle" class="t">开放存储服务集群</text>
<rect x="536.4" y="87.4" width="141.0" height="25" fill="#fff" stroke="#dcdcdc" stroke-width="1"/>
<text x="606.9" y="105.8" text-anchor="middle" class="t">开放数据处理服务集群</text>
<rect x="653.3" y="124.3" width="117.0" height="25" fill="#fff" stroke="#dcdcdc" stroke-width="1"/>
<text x="711.8" y="142.7" text-anchor="middle" class="t">开放缓存服务集群</text>
<rect x="758.3" y="162.4" width="117.0" height="25" fill="#fff" stroke="#dcdcdc" stroke-width="1"/>
<text x="816.8" y="180.8" text-anchor="middle" class="t">云服务数据库集群</text>
<rect x="277.5" y="186.3" width="105.0" height="25" fill="#fff" stroke="#dcdcdc" stroke-width="1"/>
<text x="330.0" y="204.7" text-anchor="middle" class="t">注册登录服务器</text>
<rect x="395.2" y="223.3" width="81.0" height="25" fill="#fff" stroke="#dcdcdc" stroke-width="1"/>
<text x="435.7" y="241.7" text-anchor="middle" class="t">社交服务器</text>
<rect x="488.4" y="260.2" width="105.0" height="25" fill="#fff" stroke="#dcdcdc" stroke-width="1"/>
<text x="540.9" y="278.6" text-anchor="middle" class="t">资源发布服务器</text>
<rect x="606.3" y="297.2" width="81.0" height="25" fill="#fff" stroke="#dcdcdc" stroke-width="1"/>
<text x="646.8" y="315.6" text-anchor="middle" class="t">下载服务器</text>
<rect x="194.5" y="267.4" width="68.0" height="25" fill="#fff" stroke="#dcdcdc" stroke-width="1"/>
<text x="228.5" y="285.8" text-anchor="middle" class="t">负载均衡</text>
<rect x="299.4" y="304.4" width="68.0" height="25" fill="#fff" stroke="#dcdcdc" stroke-width="1"/>
<text x="333.4" y="322.8" text-anchor="middle" class="t">负载均衡</text>
<rect x="404.4" y="341.3" width="68.0" height="25" fill="#fff" stroke="#dcdcdc" stroke-width="1"/>
<text x="438.4" y="359.7" text-anchor="middle" class="t">负载均衡</text>
<rect x="510.4" y="378.3" width="68.0" height="25" fill="#fff" stroke="#dcdcdc" stroke-width="1"/>
<text x="544.4" y="396.7" text-anchor="middle" class="t">负载均衡</text>
<rect x="2.0" y="394.4" width="128.8" height="25" fill="#fff" stroke="#dcdcdc" stroke-width="1"/>
<text x="66.4" y="412.8" text-anchor="middle" class="t">内容分发网络（主）</text>
<rect x="320.2" y="506.4" width="128.0" height="25" fill="#fff" stroke="#dcdcdc" stroke-width="1"/>
<text x="384.2" y="524.8" text-anchor="middle" class="t">内容分发网络（备）</text>
<rect x="157.5" y="436.4" width="57.0" height="25" fill="#fff" stroke="#dcdcdc" stroke-width="1"/>
<text x="186.0" y="454.8" text-anchor="middle" class="t">云监控</text>
<rect x="232.3" y="462.3" width="57.4" height="25" fill="#fff" stroke="#dcdcdc" stroke-width="1"/>
<text x="261.0" y="480.7" text-anchor="middle" class="t">防火墙</text>
<rect x="87.2" y="537.4" width="44.6" height="25" fill="#fff" stroke="#dcdcdc" stroke-width="1"/>
<text x="109.5" y="555.8" text-anchor="middle" class="t">用户</text>
</svg>
</body>
</html>
